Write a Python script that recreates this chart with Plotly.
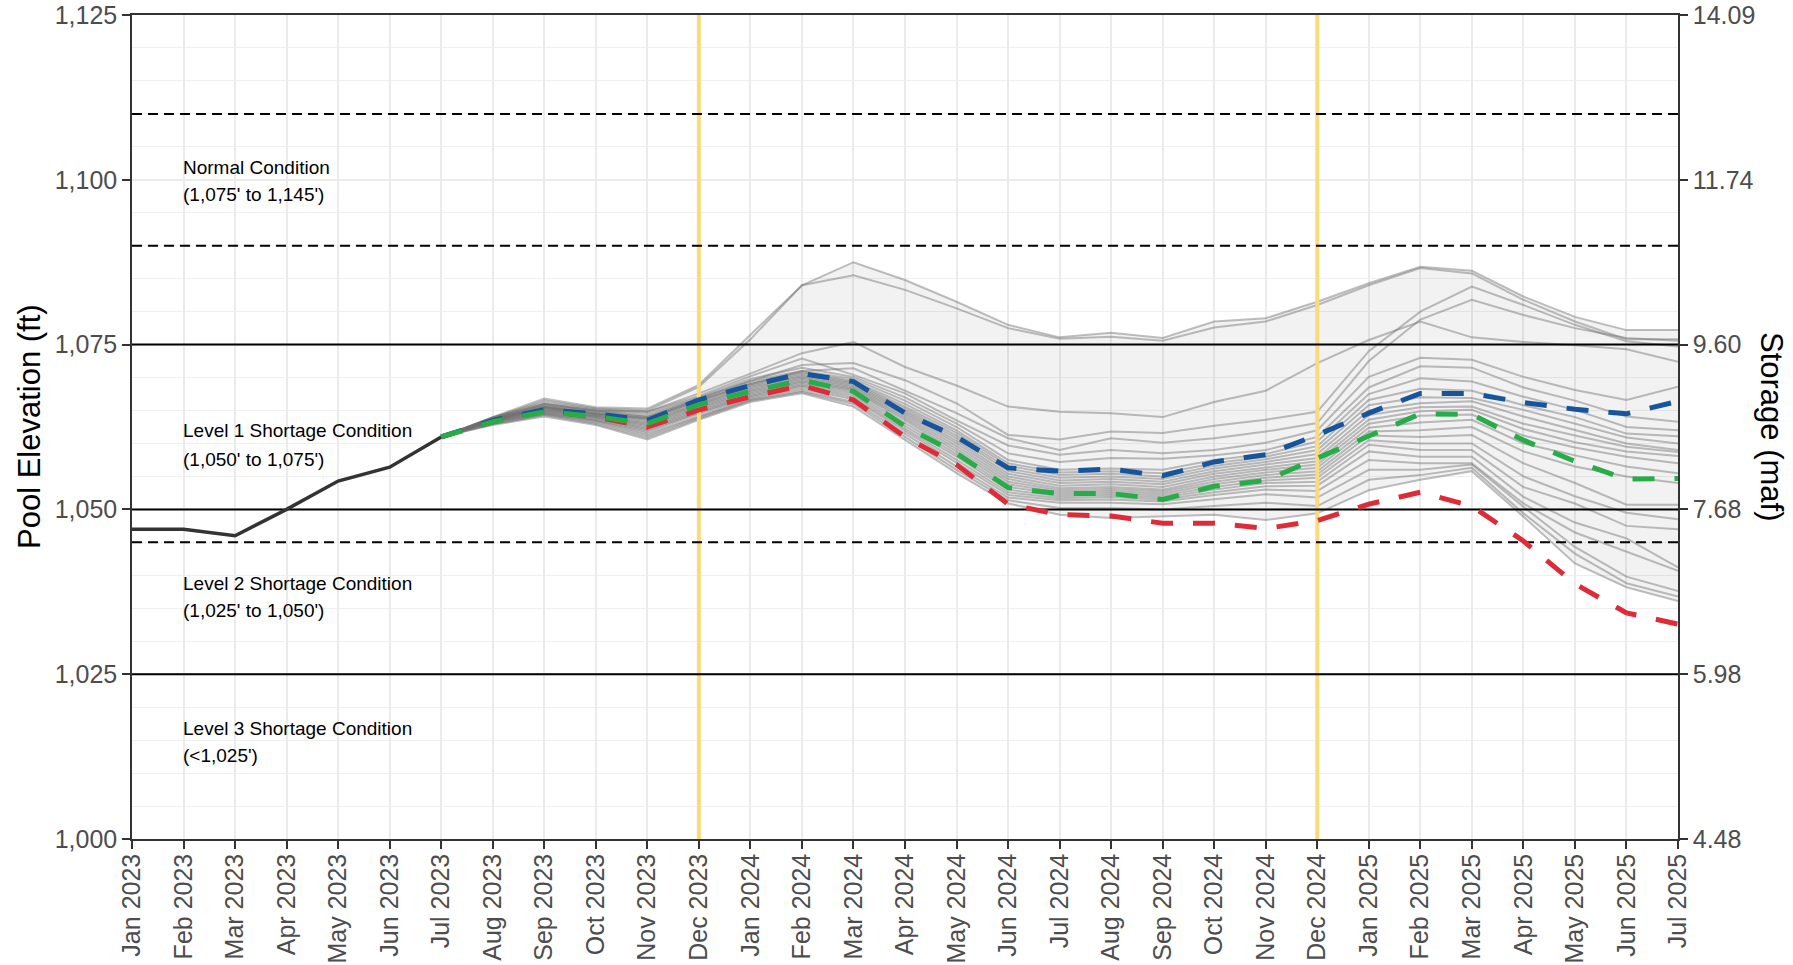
import numpy as np
import plotly.graph_objects as go

# ---------------- data ----------------
months = ["Jan 2023", "Feb 2023", "Mar 2023", "Apr 2023", "May 2023", "Jun 2023",
          "Jul 2023", "Aug 2023", "Sep 2023", "Oct 2023", "Nov 2023", "Dec 2023",
          "Jan 2024", "Feb 2024", "Mar 2024", "Apr 2024", "May 2024", "Jun 2024",
          "Jul 2024", "Aug 2024", "Sep 2024", "Oct 2024", "Nov 2024", "Dec 2024",
          "Jan 2025", "Feb 2025", "Mar 2025", "Apr 2025", "May 2025", "Jun 2025",
          "Jul 2025"]

hist_months = months[0:7]
hist_elev = [1047.0, 1047.0, 1046.0, 1050.0, 1054.3, 1056.4, 1061.0]

proj_months = months[6:]  # Jul 2023 .. Jul 2025

max_probable = [1061.0, 1063.5, 1065.1, 1064.5, 1063.5, 1066.6, 1068.8, 1070.6, 1069.4,
                1064.6, 1061.0, 1056.3, 1055.8, 1056.1, 1055.1, 1057.2, 1058.3, 1061.3,
                1064.6, 1067.6, 1067.6, 1066.2, 1065.2, 1064.5, 1066.4]
most_probable = [1061.0, 1063.3, 1064.8, 1064.1, 1063.0, 1065.9, 1067.9, 1069.6, 1067.9,
                 1062.6, 1058.5, 1053.3, 1052.4, 1052.4, 1051.5, 1053.5, 1054.4, 1057.7,
                 1061.0, 1064.5, 1064.4, 1060.5, 1057.3, 1054.6, 1054.7]
min_probable = [1061.0, 1063.3, 1065.0, 1064.0, 1062.5, 1065.1, 1067.1, 1068.8, 1066.6,
                1061.0, 1056.8, 1050.8, 1049.2, 1049.0, 1047.9, 1047.9, 1047.1, 1048.3,
                1050.8, 1052.6, 1050.5, 1045.2, 1038.7, 1034.3, 1032.6]

# ensemble traces (Jul 2023 .. Jul 2025)
ens_01 = [1061.0, 1064.0, 1066.8, 1065.5, 1065.3, 1068.9, 1076.5, 1084.0, 1087.5, 1084.8, 1081.5, 1078.0, 1076.1, 1076.8, 1076.0, 1078.5, 1079.0, 1081.5, 1084.3, 1086.8, 1086.2, 1082.3, 1079.2, 1077.2, 1077.2]
ens_02 = [1061.0, 1063.9, 1066.5, 1065.3, 1065.0, 1068.6, 1075.8, 1084.0, 1085.5, 1083.3, 1080.5, 1077.5, 1075.9, 1076.2, 1075.6, 1077.6, 1078.5, 1081.0, 1084.0, 1086.6, 1085.8, 1081.8, 1078.5, 1075.8, 1075.8]
ens_03 = [1061.0, 1063.8, 1066.0, 1065.0, 1064.8, 1067.6, 1070.6, 1073.7, 1075.4, 1071.6, 1068.8, 1065.6, 1064.8, 1064.6, 1064.0, 1066.3, 1068.0, 1072.2, 1075.7, 1078.5, 1076.1, 1075.4, 1074.9, 1074.3, 1072.4]
ens_04 = [1061.0, 1063.6, 1065.6, 1064.6, 1064.0, 1066.8, 1069.5, 1071.9, 1072.2, 1069.6, 1066.1, 1061.3, 1060.6, 1061.8, 1061.6, 1062.7, 1063.6, 1064.8, 1074.0, 1080.0, 1083.8, 1081.0, 1078.0, 1075.5, 1074.7]
ens_05 = [1061.0, 1063.5, 1065.4, 1064.4, 1063.8, 1066.5, 1069.0, 1071.0, 1071.4, 1068.0, 1064.6, 1060.8, 1059.0, 1060.8, 1060.1, 1060.8, 1061.8, 1063.1, 1072.5, 1078.8, 1081.8, 1079.5, 1077.5, 1076.0, 1075.6]
ens_06 = [1061.0, 1064.0, 1066.2, 1065.2, 1064.8, 1067.2, 1070.2, 1072.9, 1070.4, 1067.6, 1063.5, 1059.7, 1058.3, 1059.0, 1058.5, 1059.0, 1060.1, 1062.0, 1070.1, 1073.0, 1072.7, 1070.1, 1068.1, 1066.6, 1068.6]
ens_07 = [1061.0, 1063.9, 1066.0, 1065.0, 1064.5, 1067.0, 1069.8, 1071.5, 1070.1, 1067.0, 1063.0, 1058.5, 1057.2, 1057.8, 1057.7, 1058.2, 1059.0, 1061.0, 1068.5, 1071.7, 1071.5, 1068.5, 1066.5, 1064.1, 1063.3]
ens_08 = [1061.0, 1063.8, 1065.9, 1064.9, 1064.2, 1066.8, 1069.5, 1071.0, 1069.8, 1066.5, 1062.5, 1057.5, 1056.0, 1056.2, 1056.0, 1057.5, 1058.4, 1060.3, 1067.5, 1069.9, 1069.4, 1067.1, 1065.1, 1062.5, 1062.0]
ens_09 = [1061.0, 1063.8, 1065.7, 1064.8, 1064.0, 1066.6, 1069.2, 1070.8, 1069.5, 1066.0, 1062.0, 1057.0, 1055.6, 1055.8, 1055.5, 1057.0, 1058.0, 1059.6, 1066.6, 1068.3, 1068.0, 1065.8, 1064.0, 1061.5, 1061.1]
ens_10 = [1061.0, 1063.7, 1065.6, 1064.6, 1063.8, 1066.4, 1069.0, 1070.6, 1069.3, 1065.6, 1061.6, 1056.6, 1055.2, 1055.4, 1055.0, 1056.6, 1057.6, 1059.0, 1065.8, 1067.0, 1066.9, 1065.1, 1063.0, 1060.9, 1060.0]
ens_11 = [1061.0, 1063.7, 1065.5, 1064.5, 1063.6, 1066.2, 1068.8, 1070.4, 1069.1, 1065.3, 1061.2, 1056.2, 1054.8, 1055.0, 1054.6, 1056.2, 1057.2, 1058.4, 1065.0, 1066.1, 1066.4, 1064.1, 1062.0, 1060.0, 1059.0]
ens_12 = [1061.0, 1063.6, 1065.4, 1064.4, 1063.4, 1066.0, 1068.6, 1070.2, 1068.9, 1065.0, 1060.8, 1055.8, 1054.4, 1054.6, 1054.2, 1055.8, 1056.8, 1057.8, 1064.3, 1065.5, 1065.6, 1063.0, 1061.2, 1059.5, 1058.7]
ens_13 = [1061.0, 1063.6, 1065.3, 1064.3, 1063.2, 1065.9, 1068.4, 1070.0, 1068.7, 1064.7, 1060.4, 1055.4, 1054.0, 1054.2, 1053.8, 1055.4, 1056.4, 1057.3, 1063.6, 1064.9, 1065.1, 1062.2, 1060.2, 1058.8, 1058.1]
ens_14 = [1061.0, 1063.5, 1065.2, 1064.2, 1063.0, 1065.7, 1068.2, 1069.8, 1068.5, 1064.4, 1060.0, 1055.0, 1053.6, 1053.8, 1053.4, 1055.0, 1056.0, 1056.8, 1063.0, 1064.2, 1064.4, 1061.2, 1059.4, 1058.0, 1057.0]
ens_15 = [1061.0, 1063.5, 1065.1, 1064.1, 1062.8, 1065.5, 1068.0, 1069.6, 1068.3, 1064.1, 1059.6, 1054.6, 1053.2, 1053.4, 1053.0, 1054.6, 1055.6, 1056.3, 1062.4, 1063.2, 1063.6, 1060.0, 1058.2, 1056.5, 1055.5]
ens_16 = [1061.0, 1063.4, 1065.0, 1064.0, 1062.6, 1065.3, 1067.8, 1069.4, 1068.1, 1063.8, 1059.2, 1054.2, 1052.9, 1053.1, 1052.7, 1054.2, 1055.2, 1055.8, 1061.8, 1062.0, 1062.5, 1058.8, 1056.5, 1055.0, 1054.0]
ens_17 = [1061.0, 1063.4, 1064.9, 1063.9, 1062.4, 1065.1, 1067.6, 1069.2, 1067.9, 1063.5, 1058.8, 1053.8, 1052.6, 1052.8, 1052.4, 1053.8, 1054.8, 1055.3, 1061.2, 1061.0, 1061.3, 1057.0, 1054.0, 1050.7, 1050.7]
ens_18 = [1061.0, 1063.3, 1064.8, 1063.8, 1062.2, 1064.9, 1067.4, 1069.0, 1067.6, 1063.1, 1058.4, 1053.4, 1052.3, 1052.5, 1052.1, 1053.4, 1054.4, 1054.8, 1060.5, 1060.0, 1060.0, 1055.0, 1052.0, 1049.5, 1048.5]
ens_19 = [1061.0, 1063.3, 1064.7, 1063.6, 1062.0, 1064.7, 1067.2, 1068.8, 1067.3, 1062.7, 1058.0, 1053.0, 1052.0, 1052.2, 1051.8, 1053.0, 1054.0, 1054.2, 1059.8, 1059.0, 1059.0, 1053.4, 1050.9, 1047.5, 1047.0]
ens_20 = [1061.0, 1063.2, 1064.6, 1063.5, 1061.8, 1064.5, 1067.0, 1068.6, 1067.0, 1062.3, 1057.5, 1052.6, 1051.7, 1051.9, 1051.5, 1052.6, 1053.5, 1053.6, 1058.8, 1058.0, 1058.0, 1051.9, 1048.0, 1045.6, 1041.2]
ens_21 = [1061.0, 1063.1, 1064.5, 1063.4, 1061.5, 1064.2, 1066.8, 1068.3, 1066.7, 1061.9, 1057.0, 1052.2, 1051.4, 1051.5, 1051.2, 1052.2, 1053.0, 1052.8, 1057.5, 1057.0, 1057.0, 1050.9, 1046.5, 1043.6, 1040.7]
ens_22 = [1061.0, 1063.0, 1064.4, 1063.2, 1061.2, 1064.0, 1066.6, 1068.0, 1066.3, 1061.5, 1056.5, 1051.8, 1051.0, 1051.0, 1050.8, 1051.6, 1052.3, 1051.8, 1056.0, 1056.0, 1056.8, 1050.4, 1044.3, 1039.8, 1037.6]
ens_23 = [1061.0, 1062.9, 1064.3, 1063.0, 1060.9, 1063.8, 1066.5, 1067.8, 1066.0, 1061.0, 1056.0, 1051.4, 1050.2, 1050.2, 1050.0, 1050.5, 1051.0, 1050.5, 1054.5, 1055.2, 1056.3, 1049.4, 1043.3, 1038.8, 1036.8]
ens_24 = [1061.0, 1062.8, 1064.1, 1062.8, 1060.6, 1063.6, 1066.3, 1067.6, 1065.6, 1060.6, 1055.5, 1050.9, 1049.2, 1048.7, 1048.9, 1049.2, 1048.4, 1049.4, 1052.9, 1054.5, 1055.8, 1048.9, 1041.8, 1038.2, 1036.1]

ensemble = [ens_01, ens_02, ens_03, ens_04, ens_05, ens_06, ens_07, ens_08,
            ens_09, ens_10, ens_11, ens_12, ens_13, ens_14, ens_15, ens_16,
            ens_17, ens_18, ens_19, ens_20, ens_21, ens_22, ens_23, ens_24]

elev_ticks = [1000, 1025, 1050, 1075, 1100, 1125]
storage_labels = ["4.48", "5.98", "7.68", "9.60", "11.74", "14.09"]

solid_levels = [1075, 1050, 1025]
dashed_levels = [1110, 1090, 1045]
highlight_months = ["Dec 2023", "Dec 2024"]

condition_text = [
    ("Normal Condition", "(1,075' to 1,145')"),
    ("Level 1 Shortage Condition", "(1,050' to 1,075')"),
    ("Level 2 Shortage Condition", "(1,025' to 1,050')"),
    ("Level 3 Shortage Condition", "(<1,025')"),
]

# ---------------- figure ----------------
FONT = "Liberation Sans, Arial, sans-serif"
pos = {m: i for i, m in enumerate(months)}
xp = [pos[m] for m in proj_months]
xh = [pos[m] for m in hist_months]
x_span = [0, len(months) - 1]
y_span = [elev_ticks[0], elev_ticks[-1]]

fig = go.Figure()

ens_arr = np.array(ensemble)
upper = ens_arr.max(axis=0).tolist()
lower = ens_arr.min(axis=0).tolist()
fig.add_trace(go.Scatter(x=xp + xp[::-1], y=upper + lower[::-1], fill="toself",
                         fillcolor="rgba(0,0,0,0.05)", line=dict(width=0),
                         mode="lines", hoverinfo="skip", showlegend=False))

for tr in ensemble:
    fig.add_trace(go.Scatter(x=xp, y=tr, mode="lines",
                             line=dict(color="rgba(110,110,110,0.45)", width=2),
                             hoverinfo="skip", showlegend=False))

for m in highlight_months:
    fig.add_trace(go.Scatter(x=[pos[m], pos[m]], y=y_span, mode="lines",
                             line=dict(color="#f9da7c", width=4),
                             hoverinfo="skip", showlegend=False))
for lv in solid_levels:
    fig.add_trace(go.Scatter(x=x_span, y=[lv, lv], mode="lines",
                             line=dict(color="black", width=2),
                             hoverinfo="skip", showlegend=False))
for lv in dashed_levels:
    fig.add_trace(go.Scatter(x=x_span, y=[lv, lv], mode="lines",
                             line=dict(color="black", width=2, dash="10px,6px"),
                             hoverinfo="skip", showlegend=False))

fig.add_trace(go.Scatter(x=xh, y=hist_elev, mode="lines",
                         line=dict(color="#333333", width=3.5), showlegend=False))

dash = "22px,20px"
fig.add_trace(go.Scatter(x=xp, y=min_probable, mode="lines",
                         line=dict(color="#dd2c38", width=5, dash=dash), showlegend=False))
fig.add_trace(go.Scatter(x=xp, y=max_probable, mode="lines",
                         line=dict(color="#16559b", width=5, dash=dash), showlegend=False))
fig.add_trace(go.Scatter(x=xp, y=most_probable, mode="lines",
                         line=dict(color="#26ad48", width=5, dash=dash), showlegend=False))

# invisible trace so the right axis is drawn
fig.add_trace(go.Scatter(x=xh[:1], y=hist_elev[:1], yaxis="y2", mode="lines",
                         opacity=0, hoverinfo="skip", showlegend=False))

label_y = [(1101.9, 1097.7), (1061.9, 1057.6), (1038.8, 1034.6), (1016.8, 1012.6)]
for (l1, l2), (y1, y2) in zip(condition_text, label_y):
    for txt, yy in ((l1, y1), (l2, y2)):
        fig.add_annotation(x=pos["Feb 2023"], y=yy, text=txt, showarrow=False,
                           xanchor="left", yanchor="middle", xshift=-3,
                           font=dict(family=FONT, size=19, color="black"))

fig.add_annotation(xref="paper", yref="paper", x=0, y=0.5, xshift=-103,
                   text="Pool Elevation (ft)", textangle=-90, showarrow=False,
                   xanchor="center", yanchor="middle",
                   font=dict(family=FONT, size=31, color="black"))
fig.add_annotation(xref="paper", yref="paper", x=1, y=0.5, xshift=94,
                   text="Storage (maf)", textangle=90, showarrow=False,
                   xanchor="center", yanchor="middle",
                   font=dict(family=FONT, size=31, color="black"))

axis_common = dict(showline=True, linecolor="#333333", linewidth=1.5,
                   ticks="outside", ticklen=8, tickwidth=1.5, tickcolor="#333333",
                   tickfont=dict(family=FONT, size=25, color="#4d4d4d"),
                   zeroline=False, automargin=False)

fig.update_layout(
    width=1793, height=965, autosize=False,
    margin=dict(l=132, r=115, t=15, b=126, autoexpand=False),
    paper_bgcolor="white", plot_bgcolor="white",
    font=dict(family=FONT), showlegend=False,
    xaxis=dict(range=x_span, tickmode="array",
               tickvals=list(range(len(months))), ticktext=months, tickangle=-90,
               ticklabelstandoff=-5,
               showgrid=True, gridcolor="#ebebeb", gridwidth=2, mirror=True,
               **axis_common),
    yaxis=dict(range=y_span, tickmode="array", tickvals=elev_ticks,
               ticktext=[f"{v:,}" for v in elev_ticks],
               showgrid=True, gridcolor="#ebebeb", gridwidth=1.5,
               minor=dict(dtick=5, tick0=1000, showgrid=True, gridcolor="#efefef", gridwidth=1),
               mirror=True, **axis_common),
    yaxis2=dict(range=y_span, overlaying="y", side="right", tickmode="array",
                tickvals=elev_ticks, ticktext=storage_labels, showgrid=False,
                **axis_common),
)

fig.write_html("out.html", config={"displayModeBar": False},
               post_script="document.body.style.margin='0';document.body.style.overflow='hidden';")
